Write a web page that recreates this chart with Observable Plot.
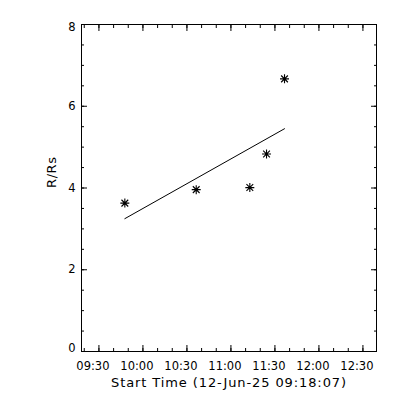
<!DOCTYPE html>
<html>
<head>
<meta charset="utf-8">
<script src="https://cdn.jsdelivr.net/npm/d3@7"></script>
<script src="https://cdn.jsdelivr.net/npm/@observablehq/plot@0.6"></script>
<style>
  html, body { margin: 0; padding: 0; background: #fff; }
  #chart { width: 400px; height: 400px; }
</style>
</head>
<body>
<div id="chart"></div>
<script>
// ---- data ----
const obsDate = "2025-06-12";
const startTime = "09:18:07";
const endTime = "12:39:15";
const obsTimes = ["09:47:40", "10:36:20", "11:12:53", "11:24:16", "11:36:32"];
const obsRadii = [3.63, 3.96, 4.01, 4.83, 6.67];
const fitTimes = ["09:47:40", "11:36:32"];
const fitRadii = [3.25, 5.45];
const xTickLabels = ["09:30", "10:00", "10:30", "11:00", "11:30", "12:00", "12:30"];
const yTickLabels = [0, 2, 4, 6, 8];
const xLabel = "Start Time (12-Jun-25 09:18:07)";
const yLabel = "R/Rs";

// ---- build ----
const toDate = (t) => new Date(`${obsDate}T${t}Z`);
const points = obsTimes.map((t, i) => ({time: toDate(t), r: obsRadii[i]}));
const fit = fitTimes.map((t, i) => ({time: toDate(t), r: fitRadii[i]}));
const domainX = [toDate(startTime), toDate(endTime)];
const majorX = xTickLabels.map(toDate);
const minorX = d3.utcMinute.every(10).range(domainX[0], domainX[1]);
const minorY = d3.range(0, 8.0001, 0.5);

const asterisk = {
  draw(ctx, size) {
    const r = Math.sqrt(size / Math.PI);
    const d = r * 0.75;
    ctx.moveTo(-r, 0); ctx.lineTo(r, 0);
    ctx.moveTo(0, -r); ctx.lineTo(0, r);
    ctx.moveTo(-d, -d); ctx.lineTo(d, d);
    ctx.moveTo(-d, d); ctx.lineTo(d, -d);
  }
};

const noText = () => "";
const tickStyle = {label: null, tickFormat: noText, stroke: "black", strokeWidth: 1};

const chart = Plot.plot({
  width: 400,
  height: 400,
  marginLeft: 81,
  marginRight: 24,
  marginTop: 24,
  marginBottom: 49,
  style: {fontFamily: "'DejaVu Sans', sans-serif", fontSize: "11px", background: "white", color: "black"},
  x: {type: "utc", domain: domainX},
  y: {domain: [0, 8]},
  marks: [
    Plot.frame({stroke: "black", strokeWidth: 1}),
    // minor ticks
    Plot.axisX(minorX, {anchor: "bottom", tickSize: -3, ...tickStyle}),
    Plot.axisX(minorX, {anchor: "top", tickSize: -3, ...tickStyle}),
    Plot.axisY(minorY, {anchor: "left", tickSize: -3, ...tickStyle}),
    Plot.axisY(minorY, {anchor: "right", tickSize: -3, ...tickStyle}),
    // major ticks
    Plot.axisX(majorX, {anchor: "bottom", tickSize: -6, ...tickStyle}),
    Plot.axisX(majorX, {anchor: "top", tickSize: -6, ...tickStyle}),
    Plot.axisY(yTickLabels, {anchor: "left", tickSize: -6, ...tickStyle}),
    Plot.axisY(yTickLabels, {anchor: "right", tickSize: -6, ...tickStyle}),
    // tick labels
    Plot.axisX(majorX, {anchor: "bottom", tickSize: 0, tickPadding: 10, dx: -6, label: null,
      tickFormat: (d, i) => xTickLabels[i], fontSize: 11.5}),
    Plot.axisY(yTickLabels.filter(v => v > 0 && v < 8), {anchor: "left", tickSize: 0, tickPadding: 6, label: null, fontSize: 11.5}),
    Plot.axisY([yTickLabels[0]], {anchor: "left", tickSize: 0, tickPadding: 6, dy: -3, label: null, fontSize: 11.5}),
    Plot.axisY([yTickLabels[yTickLabels.length - 1]], {anchor: "left", tickSize: 0, tickPadding: 6, dy: 3, label: null, fontSize: 11.5}),
    // axis titles
    Plot.text([xLabel], {frameAnchor: "bottom", text: d => d, dy: 35, lineAnchor: "bottom", fontSize: 13}),
    Plot.text([yLabel], {frameAnchor: "left", text: d => d, rotate: -90, dx: -26, lineAnchor: "bottom", fontSize: 13}),
    // data
    Plot.line(fit, {x: "time", y: "r", stroke: "black", strokeWidth: 1}),
    Plot.dot(points, {x: "time", y: "r", symbol: asterisk, r: 4.5, stroke: "black", fill: "none", strokeWidth: 1.1})
  ]
});
// widen the axis titles a little, like the reference's stroke font
d3.select(chart).selectAll("text").each(function () {
  const t = this.textContent;
  if (t === xLabel) this.setAttribute("letter-spacing", "0.9");
  if (t === yLabel) this.setAttribute("letter-spacing", "0.6");
});
document.getElementById("chart").appendChild(chart);
</script>
</body>
</html>
